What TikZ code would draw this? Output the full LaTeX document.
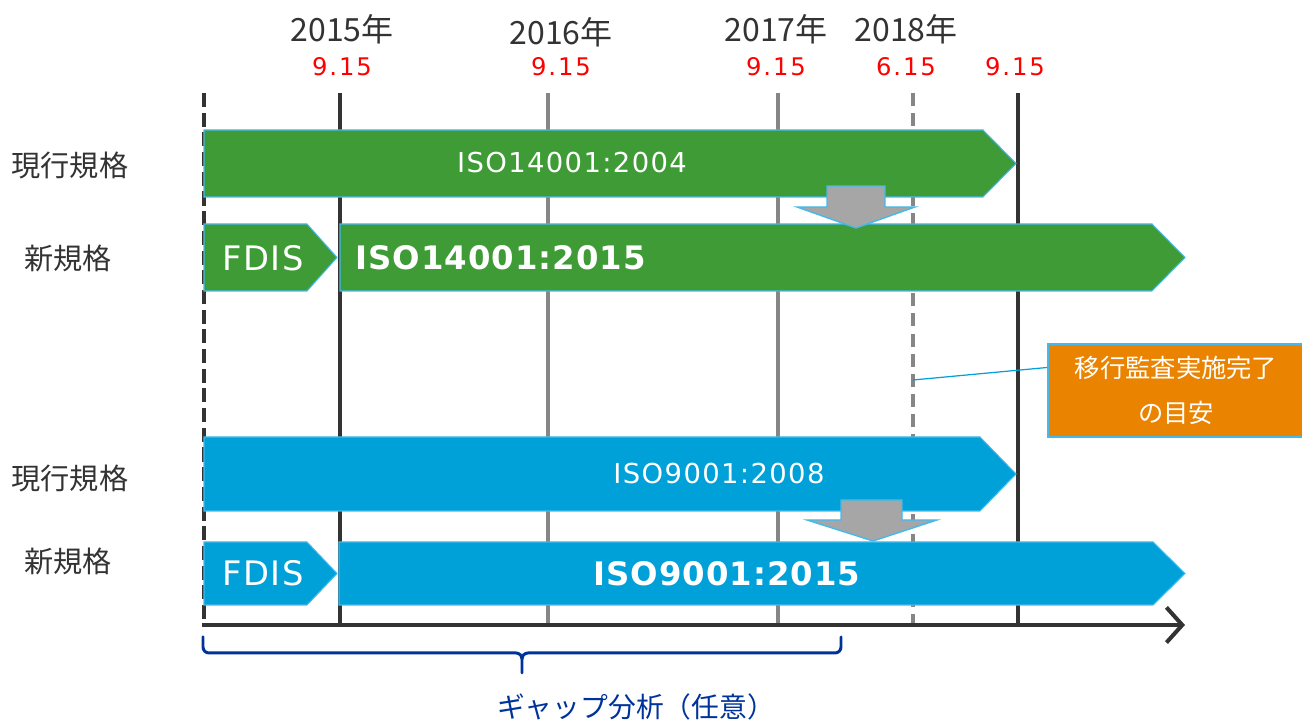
\documentclass[tikz,border=0pt]{standalone}
\usepackage{fontspec}
\setmainfont{Noto Sans CJK JP}
\newfontfamily\jp{Noto Sans CJK JP}
\newfontfamily\isoN[LetterSpace=5]{DejaVu Sans}
\newfontfamily\isoB[LetterSpace=3]{DejaVu Sans}
\newfontfamily\dateF[LetterSpace=8]{DejaVu Sans}
\usetikzlibrary{arrows.meta}
\definecolor{txtgray}{RGB}{51,51,51}
\definecolor{lineblack}{RGB}{51,51,51}
\definecolor{linegray}{RGB}{134,134,134}
\definecolor{barGreen}{RGB}{62,155,53}
\definecolor{barBlue}{RGB}{0,160,216}
\definecolor{edgeBlue}{RGB}{70,185,235}
\definecolor{arrGray}{RGB}{166,166,166}
\definecolor{boxOrange}{RGB}{233,131,0}
\definecolor{braceBlue}{RGB}{0,51,153}
\tikzset{
  yearlbl/.style={text=txtgray, font=\jp\fontsize{9.1}{11}\selectfont},
  datelbl/.style={text=red, font=\dateF\fontsize{6.9}{8}\selectfont},
  rowlbl/.style={text=txtgray, font=\jp\fontsize{8.3}{10}\selectfont},
  isonormal/.style={text=white, font=\isoN\fontsize{7.8}{9}\selectfont},
  isobold/.style={text=white, font=\isoB\bfseries\fontsize{9.2}{11}\selectfont},
  fdislbl/.style={text=white, font=\isoN\fontsize{9.6}{11}\selectfont},
  blackline/.style={draw=lineblack, line width=1.15pt},
  grayline/.style={draw=linegray, line width=1.4pt},
  blackdash/.style={blackline, dash pattern=on 4pt off 1.6pt},
  graydash/.style={grayline, dash pattern=on 3.7pt off 2pt},
  greenbar/.style={fill=barGreen, draw=edgeBlue, line width=0.3pt},
  bluebar/.style={fill=barBlue, draw=edgeBlue, line width=0.3pt},
  downarrow/.style={fill=arrGray, draw=edgeBlue, line width=0.4pt},
  notebox/.style={fill=boxOrange, draw=edgeBlue, line width=0.4pt, text=white,
    font=\jp\fontsize{7.2}{13}\selectfont, align=center,
    minimum width=2.56cm, minimum height=0.93cm, inner sep=0pt},
  noteline/.style={draw=barBlue, line width=0.35pt},
  axisline/.style={draw=lineblack, line width=1.15pt, -{Straight Barb[length=4.5pt,width=10pt,line width=1.15pt]}},
  bracepath/.style={draw=braceBlue, line width=0.85pt, line cap=round, line join=round},
  gaplbl/.style={text=braceBlue, font=\jp\fontsize{7.9}{10}\selectfont}
}
\begin{document}
\begin{tikzpicture}[x=0.01cm,y=-0.01cm]
\useasboundingbox (0,0) rectangle (1302,722);
% vertical time lines
\coordinate (v0t) at (204,93);  \coordinate (v0b) at (204,625);
\coordinate (v1t) at (340,93);  \coordinate (v1b) at (340,625);
\coordinate (v2t) at (548,93);  \coordinate (v2b) at (548,625);
\coordinate (v3t) at (778,93);  \coordinate (v3b) at (778,625);
\coordinate (v4t) at (913,93);  \coordinate (v4b) at (913,625);
\coordinate (v5t) at (1018,93); \coordinate (v5b) at (1018,625);
\draw[blackdash] (v0t) -- (v0b);
\draw[blackline] (v1t) -- (v1b);
\draw[grayline]  (v2t) -- (v2b);
\draw[grayline]  (v3t) -- (v3b);
\draw[graydash]  (v4t) -- (v4b);
\draw[blackline] (v5t) -- (v5b);
% axis
\coordinate (ax0) at (202,625);
\coordinate (ax1) at (1185,625);
\draw[axisline] (ax0) -- (ax1);
% year labels
\node[yearlbl] (y15) at (342,29) {2015年};
\node[yearlbl] (y16) at (561,32) {2016年};
\node[yearlbl] (y17) at (776,29) {2017年};
\node[yearlbl] (y18) at (906,29) {2018年};
\node[datelbl] (d1) at (342,67) {9.15};
\node[datelbl] (d2) at (561,67) {9.15};
\node[datelbl] (d3) at (776,67) {9.15};
\node[datelbl] (d4) at (906,67) {6.15};
\node[datelbl] (d5) at (1015,67) {9.15};
% row labels
\node[rowlbl] (r1) at (70,165) {現行規格};
\node[rowlbl] (r2) at (68,258) {新規格};
\node[rowlbl] (r3) at (70,478) {現行規格};
\node[rowlbl] (r4) at (68,561) {新規格};
% green bars
\path[greenbar] (204,130) -- (983,130) -- (1016,163.5) -- (983,197) -- (204,197) -- cycle;
\path[greenbar] (204,224) -- (307,224) -- (337,257.5) -- (307,291) -- (204,291) -- cycle;
\path[greenbar] (340,224) -- (1152,224) -- (1185,257.5) -- (1152,291) -- (340,291) -- cycle;
\node[isonormal] (g1) at (572,163) {ISO14001:2004};
\node[fdislbl] (g2) at (263,258) {FDIS};
\node[isobold, anchor=west, inner sep=0pt] (g3) at (355,258) {ISO14001:2015};
% blue bars
\path[bluebar] (204,437) -- (980,437) -- (1016,474) -- (980,511) -- (204,511) -- cycle;
\path[bluebar] (204,542) -- (307,542) -- (337,573.5) -- (307,605) -- (204,605) -- cycle;
\path[bluebar] (339,542) -- (1153,542) -- (1185,573.5) -- (1153,605) -- (339,605) -- cycle;
\node[isonormal] (b1) at (719,474) {ISO9001:2008};
\node[fdislbl] (b2) at (263,573) {FDIS};
\node[isobold] (b3) at (727,574) {ISO9001:2015};
% gray down arrows
\path[downarrow] (827,186) -- (885,186) -- (885,207) -- (915,207) -- (856,228) -- (797,207) -- (827,207) -- cycle;
\path[downarrow] (841,500) -- (902,500) -- (902,520) -- (937,520) -- (873,541) -- (807,520) -- (841,520) -- cycle;
% note box
\node[notebox] (note) at (1176,390.5) {移行監査実施完了\\の目安};
\coordinate (cl) at (913,380);
\draw[noteline] (cl) -- ([yshift=0.23cm]note.west);
% brace
\draw[bracepath] (203,637) -- (203,647) to[out=-90,in=180] (209,653) -- (516,653) to[out=0,in=90] (522,659) -- (522,673);
\draw[bracepath] (522,659) to[out=90,in=180] (528,653) -- (835,653) to[out=0,in=-90] (841,647) -- (841,637);
\node[gaplbl] (gap) at (636,707) {ギャップ分析（任意）};
\end{tikzpicture}
\end{document}
